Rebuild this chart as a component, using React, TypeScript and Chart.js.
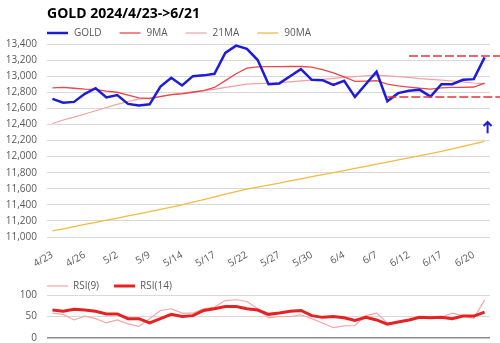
import React, { useEffect, useRef } from 'react';
import { Chart, registerables } from 'chart.js';
Chart.register(...registerables);

Chart.defaults.font.family = "'Open Sans', sans-serif";
Chart.defaults.color = '#595959';

const titleText = 'GOLD 2024/4/23->6/21';

const dates = [
  '4/23', '4/24', '4/25', '4/26', '4/29', '4/30', '5/2', '5/3', '5/7', '5/9',
  '5/10', '5/13', '5/14', '5/15', '5/16', '5/17', '5/20', '5/21', '5/22', '5/23',
  '5/24', '5/27', '5/28', '5/29', '5/30', '5/31', '6/3', '6/4', '6/5', '6/6',
  '6/7', '6/10', '6/11', '6/12', '6/13', '6/14', '6/17', '6/18', '6/19', '6/20',
  '6/21',
];

const gold = [
  12717, 12670, 12680, 12780, 12850, 12735, 12765, 12655, 12635, 12650,
  12870, 12980, 12885, 13000, 13010, 13030, 13290, 13380, 13340, 13200,
  12900, 12910, 13000, 13088, 12955, 12950, 12890, 12943, 12743, 12900,
  13055, 12689, 12789, 12818, 12830, 12747, 12900, 12900, 12955, 12963,
  13234,
];

const ma9 = [
  12855, 12860, 12850, 12840, 12835, 12815, 12800, 12765, 12730, 12720,
  12745, 12770, 12780, 12800, 12820, 12860, 12945, 13030, 13100, 13115,
  13118, 13118, 13120, 13120, 13112, 13080, 13040, 12990, 12935, 12938,
  12943, 12900, 12880, 12865, 12850, 12840, 12855, 12860, 12860, 12865,
  12914,
];

const ma21 = [
  12412, 12455, 12490, 12530, 12570, 12610, 12650, 12685, 12715, 12730,
  12750, 12770, 12790, 12805, 12820, 12835, 12860, 12880, 12900, 12908,
  12912, 12918, 12930, 12942, 12950, 12960, 12972, 12985, 12995, 13005,
  13012, 13005, 12995, 12985, 12970, 12960, 12950, 12940, 12928, 12915,
  12905,
];

const ma90 = [
  11075, 11102, 11130, 11157, 11183, 11210, 11236, 11262, 11288, 11315,
  11343, 11371, 11400, 11433, 11466, 11500, 11532, 11563, 11595, 11620,
  11645, 11670, 11697, 11723, 11750, 11775, 11800, 11825, 11852, 11878,
  11905, 11932, 11958, 11985, 12012, 12038, 12065, 12096, 12127, 12158,
  12190,
];

const rsi9 = [
  58, 55, 42, 51, 45, 35, 42, 33, 27, 45,
  64, 68, 58, 58, 68, 72, 87, 89, 85, 68,
  47, 50, 50, 54, 45, 35, 24, 28, 29, 52,
  58, 35, 37, 41, 48, 48, 48, 58, 52, 46,
  88,
];

const rsi14 = [
  65, 62, 67, 65, 62, 56, 56, 45, 45, 35,
  45, 55, 50, 52, 64, 68, 73, 73, 68, 65,
  55, 58, 62, 64, 52, 48, 50, 47, 41, 48,
  42, 32, 37, 42, 48, 47, 48, 45, 51, 51,
  60,
];

// hand-drawn resistance / support levels and the up arrow
const levelValues = [13250, 12740];
const levelStarts = [33, 31];
const arrowIndex = 40;
const arrowRange = [12290, 12430];

const goldColor = '#1c1cd9';
const levelColor = '#e8323a';

const legendPlugin = {
  id: 'customLegend',
  afterDraw(chart: any, _args: any, opts: any) {
    const { ctx, chartArea } = chart;
    ctx.save();
    ctx.font = `${opts.size}px 'Open Sans', sans-serif`;
    ctx.textBaseline = 'middle';
    ctx.textAlign = 'left';
    let x = chartArea.left;
    const y = chartArea.top - opts.offsetY;
    chart.data.datasets.forEach((ds: any) => {
      ctx.strokeStyle = ds.borderColor;
      ctx.lineWidth = ds.borderWidth;
      ctx.beginPath();
      ctx.moveTo(x, y);
      ctx.lineTo(x + opts.boxWidth, y);
      ctx.stroke();
      x += opts.boxWidth + opts.textGap;
      ctx.fillStyle = opts.color;
      ctx.fillText(ds.label, x, y + 0.5);
      x += ctx.measureText(ds.label).width + opts.itemGap;
    });
    ctx.restore();
  },
};

const levelPlugin = {
  id: 'levels',
  afterDatasetsDraw(chart: any) {
    const { ctx } = chart;
    const xs = chart.scales.x;
    const ys = chart.scales.y;
    ctx.save();
    ctx.strokeStyle = levelColor;
    ctx.lineWidth = 1.5;
    ctx.setLineDash([9, 3]);
    levelValues.forEach((v, i) => {
      const y = ys.getPixelForValue(v);
      ctx.beginPath();
      ctx.moveTo(xs.getPixelForValue(levelStarts[i]), y);
      ctx.lineTo(chart.width, y);
      ctx.stroke();
    });
    ctx.setLineDash([]);
    const ax = xs.getPixelForValue(arrowIndex) + 3;
    const yb = ys.getPixelForValue(arrowRange[0]);
    const yt = ys.getPixelForValue(arrowRange[1]);
    ctx.strokeStyle = goldColor;
    ctx.lineWidth = 2;
    ctx.beginPath();
    ctx.moveTo(ax, yb);
    ctx.lineTo(ax, yt);
    ctx.moveTo(ax - 4, yt + 4);
    ctx.lineTo(ax, yt);
    ctx.lineTo(ax + 4, yt + 4);
    ctx.stroke();
    ctx.restore();
  },
};

function lineDs(label: string, data: number[], color: string, width: number, order = 0) {
  return {
    label,
    data,
    borderColor: color,
    backgroundColor: color,
    borderWidth: width,
    pointRadius: 0,
    fill: false,
    tension: 0,
    order,
  };
}

export default function App() {
  const mainRef = useRef<HTMLCanvasElement>(null);
  const rsiRef = useRef<HTMLCanvasElement>(null);

  useEffect(() => {
    const main = new Chart(mainRef.current as HTMLCanvasElement, {
      type: 'line',
      data: {
        labels: dates,
        datasets: [
          lineDs('GOLD', gold, goldColor, 2.5, 0),
          lineDs('9MA', ma9, '#e8474c', 1.3, 1),
          lineDs('21MA', ma21, '#f2a0a3', 1.2, 2),
          lineDs('90MA', ma90, '#f5b945', 1.3, 3),
        ],
      },
      options: {
        animation: false,
        responsive: true,
        maintainAspectRatio: false,
        layout: { padding: { left: 0, right: 10, top: 0, bottom: 0 } },
        plugins: {
          legend: { display: false },
          tooltip: { enabled: false },
          title: {
            display: true,
            text: titleText,
            align: 'start',
            fullSize: false,
            color: '#000',
            font: { size: 14, weight: 'bold' },
            padding: { top: 6, bottom: 21.2 },
          },
          customLegend: { offsetY: 11, boxWidth: 21, textGap: 6, itemGap: 18, size: 10, color: '#595959' },
        } as any,
        scales: {
          x: {
            offset: true,
            grid: { display: false },
            border: { display: false },
            ticks: {
              autoSkip: false,
              maxRotation: 30,
              minRotation: 30,
              padding: 4,
              color: '#595959',
              font: { size: 10 },
              callback: (_v: any, i: number) => (i % 3 === 0 ? dates[i] : ''),
            },
            afterFit: (s: any) => { s.height = 35; },
          },
          y: {
            min: 11000,
            max: 13400,
            ticks: {
              stepSize: 200,
              padding: 2,
              color: '#595959',
              font: { size: 10 },
              callback: (v: any) => Number(v).toLocaleString('en-US'),
            },
            grid: { color: '#d9d9d9', drawTicks: true, tickLength: 8, tickColor: 'rgba(0,0,0,0)' },
            border: { display: false },
            afterFit: (s: any) => { s.width = 47; },
          },
        },
      },
      plugins: [legendPlugin, levelPlugin],
    });

    const rsi = new Chart(rsiRef.current as HTMLCanvasElement, {
      type: 'line',
      data: {
        labels: dates,
        datasets: [
          lineDs('RSI(9)', rsi9, '#f4a6a6', 1.2, 1),
          lineDs('RSI(14)', rsi14, '#e52222', 3, 0),
        ],
      },
      options: {
        animation: false,
        responsive: true,
        maintainAspectRatio: false,
        layout: { padding: { left: 0, right: 10, top: 23, bottom: 0 } },
        plugins: {
          legend: { display: false },
          tooltip: { enabled: false },
          customLegend: { offsetY: 9, boxWidth: 21, textGap: 5, itemGap: 15, size: 10, color: '#595959' },
        } as any,
        scales: {
          x: { display: false, offset: true },
          y: {
            min: 0,
            max: 100,
            ticks: {
              stepSize: 25,
              padding: 2,
              color: '#595959',
              font: { size: 10 },
              callback: (v: any) => (Number(v) % 50 === 0 ? String(v) : ''),
            },
            grid: {
              color: (c: any) => (c.tick && c.tick.value === 0 ? '#8c8c8c' : '#d9d9d9'),
              lineWidth: (c: any) => (c.tick && c.tick.value === 0 ? 1.5 : 1),
              drawTicks: true,
              tickLength: 8,
              tickColor: 'rgba(0,0,0,0)',
            },
            border: { display: false },
            afterFit: (s: any) => { s.width = 47; },
          },
        },
      },
      plugins: [legendPlugin],
    });

    return () => {
      main.destroy();
      rsi.destroy();
    };
  }, []);

  return (
    <div style={{ position: 'absolute', left: 0, top: 0, width: 500, height: 343, background: '#fff', overflow: 'hidden' }}>
      <div style={{ position: 'absolute', left: 0, top: 0, width: 500, height: 272 }}>
        <canvas ref={mainRef} />
      </div>
      <div style={{ position: 'absolute', left: 0, top: 272, width: 500, height: 74 }}>
        <canvas ref={rsiRef} />
      </div>
    </div>
  );
}
